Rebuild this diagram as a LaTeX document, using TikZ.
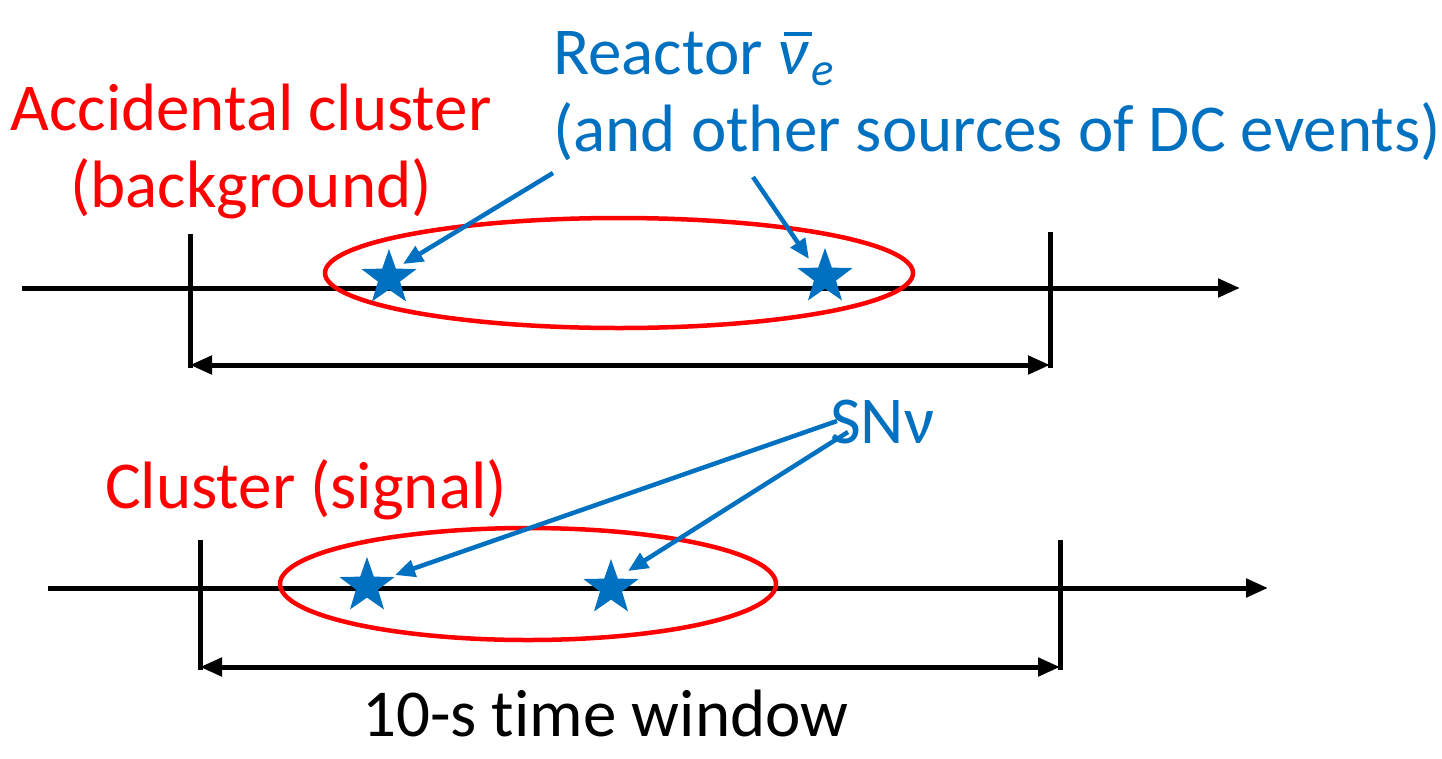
\RequirePackage{fix-cm}
\documentclass[tikz,border=0pt]{standalone}
\usepackage{fontspec}
\setmainfont{Carlito}[Ligatures=NoCommon]
\usepackage{tikz}
\usetikzlibrary{shapes.geometric, arrows.meta, positioning, calc}
\definecolor{clusterred}{RGB}{255, 0, 0}
\definecolor{eventblue}{RGB}{0, 112, 192}

\tikzset{
    axisline/.style={line width=5pt, -{Triangle[length=22pt, width=18pt]}},
    tickline/.style={line width=5pt},
    windowarrow/.style={line width=5pt, {Triangle[length=22pt, width=18pt]}-{Triangle[length=22pt, width=18pt]}},
    clusterring/.style={draw=clusterred, line width=4.5pt, ellipse, inner sep=0pt},
    eventstar/.style={star, star points=5, star point ratio=2.5, fill=eventblue,
                      minimum size=58pt, inner sep=0pt},
    pointer/.style={draw=eventblue, line width=4.5pt, -{Triangle[length=20pt, width=17pt]}},
    bigtext/.style={font=\fontsize{67}{77}\selectfont, inner sep=0pt},
}
\newcommand{\antinue}{\rlap{\hspace{6pt}\rule[38pt]{28pt}{4pt}}\textit{ν}\kern2pt\raisebox{-11pt}{\fontsize{47}{50}\selectfont\textit{e}}}

\begin{document}
\begin{tikzpicture}[x=1pt, y=-1pt]
    \useasboundingbox (0,0) rectangle (1442,758);

    % upper time line
    \coordinate (topstart) at (22,288);
    \coordinate (topend) at (1240,288);
    \draw[axisline] (topstart) -- (topend);
    \coordinate (topltick) at (190,234);
    \coordinate (toplfoot) at (190,368);
    \coordinate (toprtick) at (1050,232);
    \coordinate (toprfoot) at (1050,368);
    \draw[tickline] (topltick) -- (toplfoot);
    \draw[tickline] (toprtick) -- (toprfoot);
    \draw[windowarrow] (190,365) coordinate (topwinl) -- (1050,365) coordinate (topwinr);
    \node[clusterring, minimum width=588pt, minimum height=110pt] (accring) at (619,273) {};
    \node[eventstar] (react1) at (389,278) {};
    \node[eventstar] (react2) at (825,277) {};

    % lower time line
    \coordinate (botstart) at (48,588);
    \coordinate (botend) at (1268,588);
    \draw[axisline] (botstart) -- (botend);
    \coordinate (botltick) at (200,540);
    \coordinate (botlfoot) at (200,670);
    \coordinate (botrtick) at (1060,540);
    \coordinate (botrfoot) at (1060,670);
    \draw[tickline] (botltick) -- (botlfoot);
    \draw[tickline] (botrtick) -- (botrfoot);
    \draw[windowarrow] (200,667) coordinate (botwinl) -- (1060,667) coordinate (botwinr);
    \node[clusterring, minimum width=496pt, minimum height=112pt] (sigring) at (528,584) {};
    \node[eventstar] (sn1) at (367,586) {};
    \node[eventstar] (sn2) at (611,588) {};

    % labels
    \node[bigtext, text=clusterred, align=center, anchor=base] (acclabel) at (251,207)
        {Accidental cluster\\(background)};
    \node[bigtext, text=eventblue, align=left, anchor=base west] (reactlabel) at (553,151)
        {Reactor \antinue\\(and other sources of DC events)};
    \node[bigtext, text=eventblue, anchor=base west] (snlabel) at (830,443) {SNν};
    \node[bigtext, text=clusterred, anchor=base west] (siglabel) at (105,508) {Cluster (signal)};
    \node[bigtext, anchor=base west] (winlabel) at (362,736) {10-s time window};

    % pointers
    \coordinate (rfrom1) at (553,173);
    \coordinate (rfrom2) at (753,177);
    \coordinate (sfrom1) at (837,421);
    \coordinate (sfrom2) at (848,432);
    \draw[pointer] (rfrom1) -- (403,264);
    \draw[pointer] (rfrom2) -- (809,259);
    \draw[pointer] (sfrom1) -- (395,575);
    \draw[pointer] (sfrom2) -- (628,571);
\end{tikzpicture}
\end{document}
